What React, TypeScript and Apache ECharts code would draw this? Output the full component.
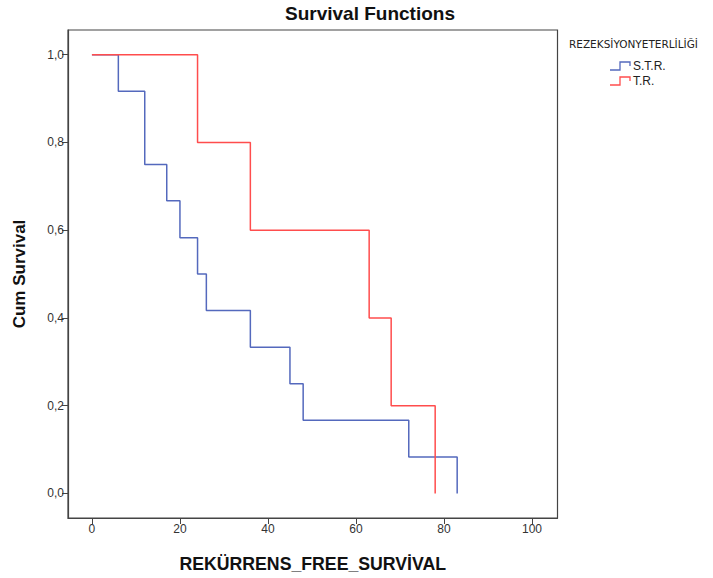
import React, { useEffect, useRef } from "react";
import * as echarts from "echarts";

const strTimes = [0, 6, 12, 17, 20, 24, 26, 36, 45, 48, 72, 83];
const strSurv = [1, 0.917, 0.75, 0.667, 0.583, 0.5, 0.417, 0.333, 0.25, 0.167, 0.083, 0];
const trTimes = [0, 24, 36, 63, 68, 78];
const trSurv = [1, 0.8, 0.6, 0.4, 0.2, 0];
const xTicks = [0, 20, 40, 60, 80, 100];
const yTicks = [0, 0.2, 0.4, 0.6, 0.8, 1.0];
const seriesNames = ["S.T.R.", "T.R."];
const legendTitle = "REZEKSİYONYETERLİLİĞİ";

const BLUE = "#5469bd";
const RED = "#ff4d4d";

export default function App() {
  const ref = useRef<HTMLDivElement>(null);
  useEffect(() => {
    if (!ref.current) return;
    const chart = echarts.init(ref.current, undefined, { renderer: "svg" });
    const font = "'Liberation Sans', Arial, sans-serif";
    chart.setOption({
      animation: false,
      backgroundColor: "#fff",
      textStyle: { fontFamily: font },
      title: {
        text: "Survival Functions",
        left: 280,
        top: -1,
        textStyle: { fontSize: 19, fontWeight: "bold", color: "#111", fontFamily: font },
      },
      grid: {
        left: 68,
        top: 30,
        right: 155.5,
        bottom: 59,
        show: true,
        borderColor: "#444",
        borderWidth: 1.2,
        backgroundColor: "#fff",
      },
      xAxis: {
        type: "value",
        min: -5.44,
        max: 105.8,
        name: "REKÜRRENS_FREE_SURVİVAL",
        nameLocation: "middle",
        nameGap: 37,
        nameTextStyle: { fontSize: 17.7, fontWeight: "bold", color: "#111", fontFamily: font },
        axisLine: { show: true, onZero: false, lineStyle: { color: "#444", width: 1.2 } },
        axisTick: { show: true, length: 6, customValues: xTicks, lineStyle: { color: "#444" } },
        axisLabel: { customValues: xTicks, color: "#333", fontSize: 12, margin: 5, fontFamily: font },
        splitLine: { show: false },
      },
      yAxis: {
        type: "value",
        min: -0.0561,
        max: 1.0564,
        name: "Cum Survival",
        nameLocation: "middle",
        nameGap: 40,
        nameTextStyle: { fontSize: 17, fontWeight: "bold", color: "#111", fontFamily: font },
        axisLine: { show: true, onZero: false, lineStyle: { color: "#444", width: 1.2 } },
        axisTick: { show: true, length: 6, customValues: yTicks, lineStyle: { color: "#444" } },
        axisLabel: {
          customValues: yTicks,
          color: "#333",
          fontSize: 12,
          margin: 4,
          fontFamily: font,
          formatter: (v: number) => v.toFixed(1).replace(".", ","),
        },
        splitLine: { show: false },
      },
      series: [
        {
          name: seriesNames[0],
          type: "line",
          step: "end",
          showSymbol: false,
          symbol: "none",
          lineStyle: { color: BLUE, width: 1.5 },
          itemStyle: { color: BLUE },
          data: strTimes.map((t, i) => [t, strSurv[i]]),
          z: 2,
        },
        {
          name: seriesNames[1],
          type: "line",
          step: "end",
          showSymbol: false,
          symbol: "none",
          lineStyle: { color: RED, width: 1.5 },
          itemStyle: { color: RED },
          data: trTimes.map((t, i) => [t, trSurv[i]]),
          z: 3,
        },
      ],
      graphic: [
        {
          type: "text",
          left: 569,
          top: 38,
          style: { text: legendTitle, fill: "#222", font: `10.5px 'DejaVu Sans', sans-serif` },
        },
        {
          type: "polyline",
          shape: { points: [[610, 70], [620, 70], [620, 62], [630, 62], [630, 66]] },
          style: { stroke: BLUE, lineWidth: 1.3, fill: "none" },
        },
        {
          type: "text",
          left: 633,
          top: 60,
          style: { text: seriesNames[0], fill: "#222", font: `12px ${font}` },
        },
        {
          type: "polyline",
          shape: { points: [[610, 85], [620, 85], [620, 77], [630, 77], [630, 81]] },
          style: { stroke: RED, lineWidth: 1.3, fill: "none" },
        },
        {
          type: "text",
          left: 633,
          top: 75,
          style: { text: seriesNames[1], fill: "#222", font: `12px ${font}` },
        },
      ],
    });
    return () => chart.dispose();
  }, []);
  return (
    <div
      ref={ref}
      style={{ position: "fixed", left: 0, top: 0, width: 713, height: 578 }}
    />
  );
}
